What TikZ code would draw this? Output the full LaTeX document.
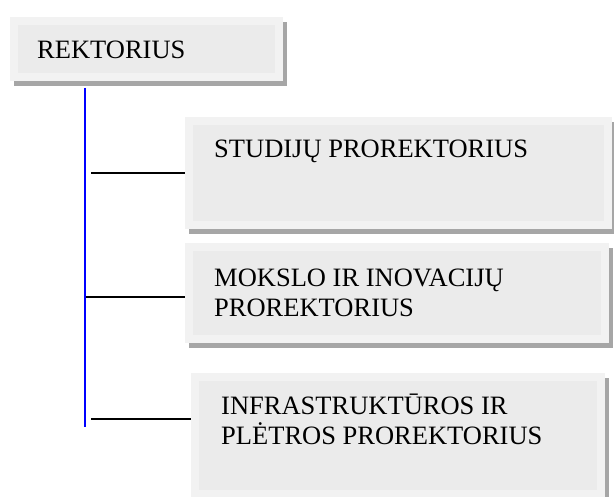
\documentclass[tikz,border=0pt]{standalone}
\usepackage{fontspec}
\setmainfont{Liberation Serif}
\usetikzlibrary{backgrounds}
\definecolor{boxout}{HTML}{F2F2F2}
\definecolor{boxin}{HTML}{EBEBEB}
\definecolor{boxshade}{HTML}{A6A6A6}

\begin{document}
\begin{tikzpicture}[x=1pt,y=-1pt]
%define

\tikzstyle{post} = [rectangle, draw=boxout, line width=8pt, outer sep=4pt, fill=boxin, inner sep=0pt, anchor=north west]
\tikzstyle{post_text} = [anchor=base west, align=left, inner sep=0pt, font=\fontsize{26.5}{30}\selectfont]
\tikzstyle{trunk} = [draw=blue, line width=2pt]
\tikzstyle{branch} = [draw=black, line width=2pt]

\useasboundingbox (0,0) rectangle (614,497);

%boxes
\node[post, minimum width=265pt, minimum height=56pt](post_Rektor) at (10,17){};
\node[post, minimum width=419pt, minimum height=104pt](post_Studies) at (185,117){};
\node[post, minimum width=416pt, minimum height=92pt](post_Science) at (185,243){};
\node[post, minimum width=406pt, minimum height=117pt](post_Infra) at (191,373){};

%shadows
\begin{scope}[on background layer]
\foreach \n in {post_Rektor, post_Studies, post_Science, post_Infra}
  \fill[boxshade]([shift={(4,5)}]\n.north west)rectangle([shift={(4,5)}]\n.south east);
\end{scope}

%text (base = last line)
\node[post_text](txt_Rektor) at ([shift={(27,42)}]post_Rektor.north west){REKTORIUS};
\node[post_text](txt_Studies) at ([shift={(29,41)}]post_Studies.north west){STUDIJŲ PROREKTORIUS};
\node[post_text](txt_Science) at ([shift={(29,74)}]post_Science.north west){MOKSLO IR INOVACIJŲ\\PROREKTORIUS};
\node[post_text](txt_Infra) at ([shift={(30,72)}]post_Infra.north west){INFRASTRUKTŪROS IR\\PLĖTROS PROREKTORIUS};

%line
\coordinate (trunk_top) at (85,88);
\coordinate (trunk_bottom) at (85,427);
\coordinate (fork_Studies) at (91,173);
\coordinate (fork_Science) at (86,297);
\coordinate (fork_Infra) at (91,419);

\draw[trunk](trunk_top)--(trunk_bottom); %Rektorius->down
\draw[branch](fork_Studies)--(fork_Studies -| post_Studies.west); %->Studijos
\draw[branch](fork_Science)--(fork_Science -| post_Science.west); %->Mokslas
\draw[branch](fork_Infra)--(fork_Infra -| post_Infra.west); %->Infrastruktura

\end{tikzpicture}
\end{document}
